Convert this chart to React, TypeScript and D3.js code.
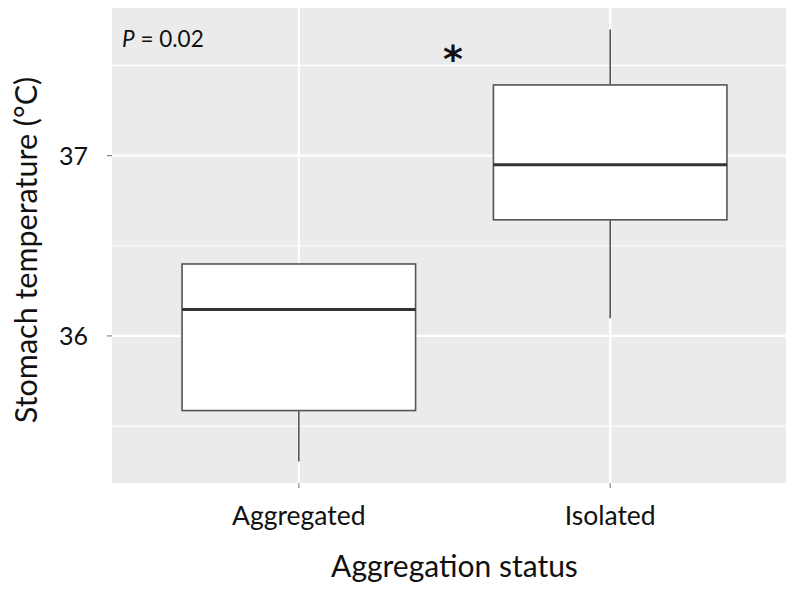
import React from "react";
import * as d3 from "d3";

const categories = ["Aggregated", "Isolated"];
const lowerWhisker = [35.304, 36.098];
const q1 = [35.586, 36.644];
const median = [36.147, 36.949];
const q3 = [36.399, 37.392];
const upperWhisker = [36.399, 37.699];
const yTicks = [36, 37];
const yMinor = [35.5, 36.5, 37.5];
const pLabel = "0.02";

const W = 786;
const H = 592;
const FONT = "Lato, 'Open Sans', sans-serif";

export default function App() {
  const panel = { left: 112, top: 8, right: 797, bottom: 483 };
  const dataMin = d3.min(lowerWhisker) as number;
  const dataMax = d3.max(upperWhisker) as number;
  const pad = (dataMax - dataMin) * 0.05;
  const y = d3.scaleLinear().domain([dataMin - pad, dataMax + pad]).range([panel.bottom, panel.top]);
  const x = d3.scaleLinear().domain([0.4, categories.length + 0.6]).range([panel.left, panel.right]);
  const boxHalf = x(1.375) - x(1);

  return (
    <svg width={W} height={H} style={{ position: "absolute", left: 0, top: 0, background: "#fff" }}>
      <rect x={panel.left} y={panel.top} width={W - panel.left} height={panel.bottom - panel.top} fill="#EBEBEB" />
      {yMinor.map((v) => (
        <line key={"mn" + v} x1={panel.left} x2={W} y1={y(v)} y2={y(v)} stroke="#fff" strokeWidth={1.2} />
      ))}
      {yTicks.map((v) => (
        <line key={"mj" + v} x1={panel.left} x2={W} y1={y(v)} y2={y(v)} stroke="#fff" strokeWidth={2.2} />
      ))}
      {categories.map((c, i) => (
        <line key={"vx" + c} x1={x(i + 1)} x2={x(i + 1)} y1={panel.top} y2={panel.bottom} stroke="#fff" strokeWidth={2.2} />
      ))}
      {categories.map((c, i) => {
        const cx = x(i + 1);
        return (
          <g key={"box" + c}>
            <line x1={cx} x2={cx} y1={y(upperWhisker[i])} y2={y(q3[i])} stroke="#555" strokeWidth={1.6} />
            <line x1={cx} x2={cx} y1={y(q1[i])} y2={y(lowerWhisker[i])} stroke="#555" strokeWidth={1.6} />
            <rect x={cx - boxHalf} y={y(q3[i])} width={boxHalf * 2} height={y(q1[i]) - y(q3[i])} fill="#fff" stroke="#555" strokeWidth={1.6} />
            <line x1={cx - boxHalf} x2={cx + boxHalf} y1={y(median[i])} y2={y(median[i])} stroke="#333" strokeWidth={3} />
          </g>
        );
      })}
      {yTicks.map((v) => (
        <g key={"yt" + v}>
          <line x1={panel.left - 5} x2={panel.left} y1={y(v)} y2={y(v)} stroke="#888" strokeWidth={1.2} />
          <text x={88} y={y(v)} dy="0.36em" textAnchor="end" fontFamily={FONT} fontSize={25} fill="#111">{v}</text>
        </g>
      ))}
      {categories.map((c, i) => (
        <g key={"xt" + c}>
          <line x1={x(i + 1)} x2={x(i + 1)} y1={panel.bottom} y2={panel.bottom + 5} stroke="#888" strokeWidth={1.2} />
          <text x={x(i + 1)} y={525} textAnchor="middle" fontFamily={FONT} fontSize={26.5} fill="#111">{c}</text>
        </g>
      ))}
      <text x={(panel.left + panel.right) / 2} y={577} textAnchor="middle" fontFamily={FONT} fontSize={30} fill="#111">Aggregation status</text>
      <text transform={`translate(37, ${(78 + 422) / 2}) rotate(-90)`} textAnchor="middle" fontFamily={FONT} fontSize={30.5} fill="#111">Stomach temperature (°C)</text>
      <text x={122} y={47} fontFamily={FONT} fontSize={22.5} fill="#111">
        <tspan fontStyle="italic">P</tspan> = {pLabel}
      </text>
      <text x={453} y={72} textAnchor="middle" fontFamily="'DejaVu Sans', sans-serif" fontWeight="bold" fontSize={38} fill="#111">*</text>
    </svg>
  );
}
